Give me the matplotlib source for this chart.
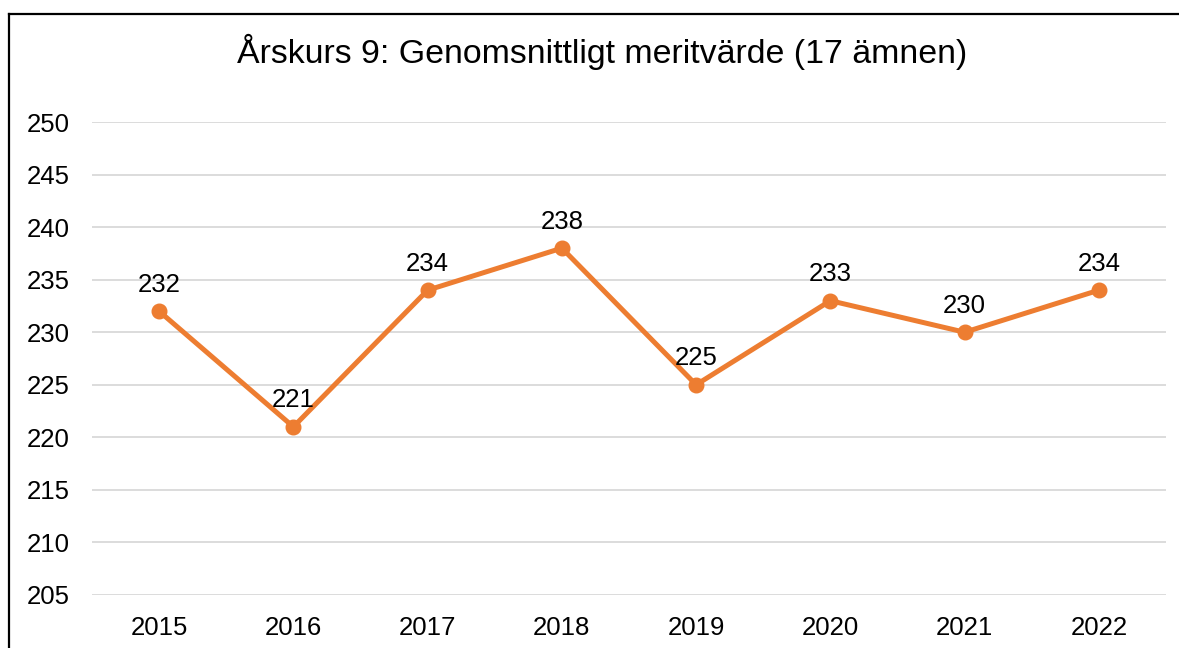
import matplotlib
matplotlib.use("Agg")
import matplotlib.pyplot as plt
from matplotlib.lines import Line2D

years = ["2015", "2016", "2017", "2018", "2019", "2020", "2021", "2022"]
values = [232, 221, 234, 238, 225, 233, 230, 234]
yticks = [205, 210, 215, 220, 225, 230, 235, 240, 245, 250]
title = "Årskurs 9: Genomsnittligt meritvärde (17 ämnen)"

plt.rcParams['font.family'] = ['Liberation Sans', 'DejaVu Sans']

fig = plt.figure(figsize=(11.79, 6.48), dpi=100)
ax = fig.add_axes([92/1179, 1-595/648, (1166-92)/1179, (595-122)/648])

x = list(range(len(years)))
color = "#ED7D31"
ax.plot(x, values, color=color, linewidth=3.6, marker='o', markersize=10.5,
        solid_capstyle='round', solid_joinstyle='round', zorder=3)
for xi, v in zip(x, values):
    ax.annotate(str(v), (xi, v), xytext=(0, 10.5), textcoords='offset points',
                ha='center', va='bottom', fontsize=18.5, color='black')

ax.set_xlim(-0.5, len(years)-0.5)
ax.set_ylim(205, 250)
ax.set_yticks(yticks)
ax.set_yticklabels([str(t) for t in yticks], fontsize=18.5)
ax.set_xticks(x)
ax.set_xticklabels(years, fontsize=18.5)
ax.tick_params(axis='both', length=0)
ax.tick_params(axis='y', pad=16)
ax.tick_params(axis='x', pad=15)
ax.grid(axis='y', color='#D9D9D9', linewidth=1.3)
ax.set_axisbelow(True)
for s in ax.spines.values():
    s.set_visible(False)

fig.text(602/1179, 1-52/648, title, ha='center', va='center', fontsize=24.4)

# chart border (left and top edges visible)
fig.add_artist(Line2D([9/1179, 9/1179], [0, 1-13.5/648], transform=fig.transFigure,
                      color='black', linewidth=1.6))
fig.add_artist(Line2D([9/1179, 1], [1-13.5/648, 1-13.5/648], transform=fig.transFigure,
                      color='black', linewidth=1.6))

fig.savefig("out.png", dpi=100, facecolor='white')
